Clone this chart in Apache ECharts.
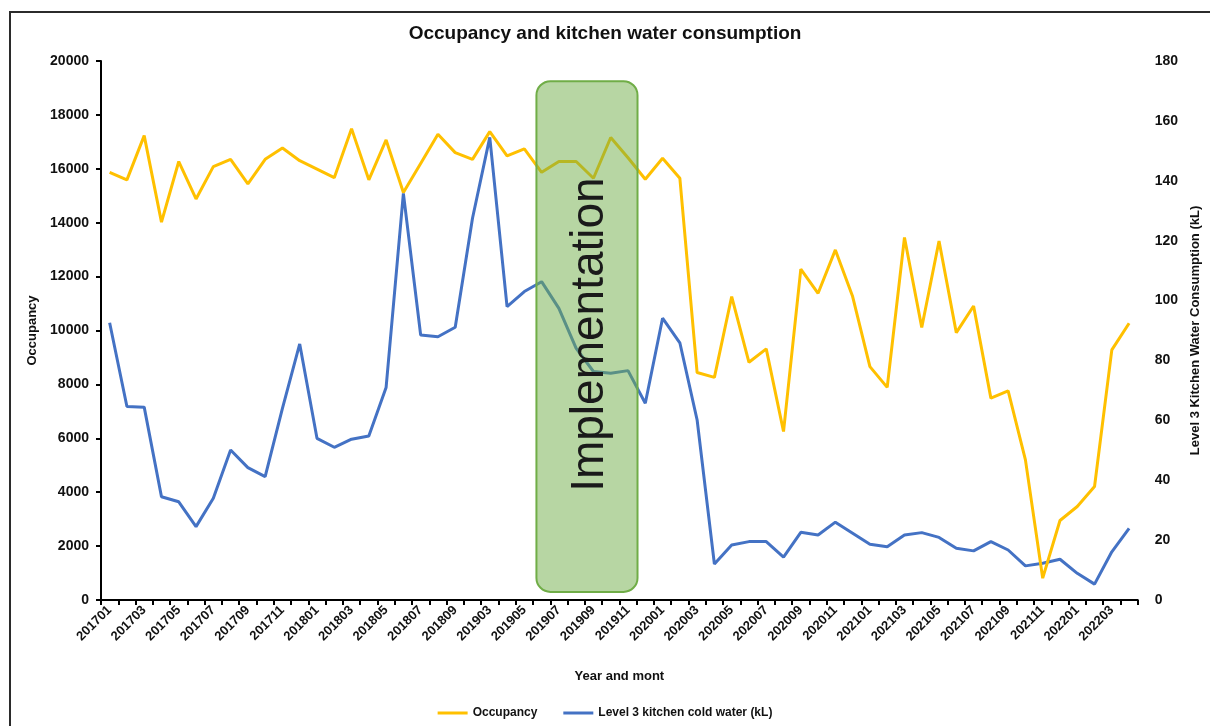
<!DOCTYPE html>
<html>
<head>
<meta charset="utf-8">
<script src="https://cdn.jsdelivr.net/npm/echarts@6.0.0/dist/echarts.min.js"></script>
<style>
  html, body { margin: 0; padding: 0; background: #fff; }
  #chart { width: 1210px; height: 726px; }
</style>
</head>
<body>
<div id="chart"></div>
<script>
// year+month categories (one month between 201809 and 201903 only)
const months = [
  '201701', '201702', '201703', '201704', '201705', '201706', '201707', '201708', '201709', '201710', '201711', '201712',
  '201801', '201802', '201803', '201804', '201805', '201806', '201807', '201808', '201809', '201810',
  '201903', '201904', '201905', '201906', '201907', '201908', '201909', '201910', '201911', '201912',
  '202001', '202002', '202003', '202004', '202005', '202006', '202007', '202008', '202009', '202010', '202011', '202012',
  '202101', '202102', '202103', '202104', '202105', '202106', '202107', '202108', '202109', '202110', '202111', '202112',
  '202201', '202202', '202203', '202204'
]

const occupancy = [
  15870, 15590, 17230, 14020, 16270, 14880, 16080, 16350, 15440, 16350,
  16770, 16300, 15990, 15670, 17490, 15590, 17070, 15120, 16200, 17280,
  16600, 16350, 17380, 16480, 16740, 15870, 16270, 16270, 15650, 17160,
  16410, 15610, 16390, 15650, 8440, 8260, 11260, 8820, 9320, 6250,
  12280, 11380, 12990, 11260, 8660, 7890, 13450, 10110, 13320, 9920,
  10910, 7490, 7760, 5200, 810, 2950, 3470, 4210, 9280, 10270
]

const coldWater = [
  92.6, 64.6, 64.4, 34.5, 32.8, 24.5, 34.0, 50.1, 44.2, 41.2,
  64.0, 85.5, 54.0, 51.0, 53.7, 54.8, 71.0, 135.8, 88.5, 87.9,
  91.1, 127.5, 154.5, 98.0, 103.0, 106.3, 97.4, 84.0, 76.3, 75.7,
  76.6, 65.7, 94.1, 85.9, 60.1, 12.0, 18.4, 19.5, 19.5, 14.3,
  22.6, 21.7, 26.0, 22.3, 18.6, 17.8, 21.7, 22.5, 20.9, 17.3,
  16.4, 19.5, 16.7, 11.4, 12.3, 13.6, 8.9, 5.3, 16.1, 23.9
]

const seriesNames = ['Occupancy', 'Level 3 kitchen cold water (kL)']

const FONT = '"Liberation Sans", Arial, sans-serif'
const TEXT = '#111'

const chart = echarts.init(document.getElementById('chart'), null, { renderer: 'canvas' })

const option = {
  animation: false,
  backgroundColor: '#fff',
  textStyle: { fontFamily: FONT },
  title: {
    text: 'Occupancy and kitchen water consumption',
    left: 'center',
    top: 19,
    textStyle: { color: TEXT, fontSize: 19, fontWeight: 'bold', fontFamily: FONT }
  },
  legend: {
    data: seriesNames,
    bottom: 2,
    left: 'center',
    icon: 'rect',
    itemWidth: 30,
    itemHeight: 3,
    itemGap: 26,
    textStyle: { color: TEXT, fontSize: 12, fontWeight: 'bold', fontFamily: FONT }
  },
  grid: {
    left: 101,
    right: 70,
    top: 61,
    bottom: 126
  },
  xAxis: {
    type: 'category',
    data: months,
    boundaryGap: true,
    name: 'Year and mont',
    nameLocation: 'middle',
    nameGap: 70,
    nameTextStyle: { color: TEXT, fontSize: 13, fontWeight: 'bold' },
    axisLine: { lineStyle: { color: '#000', width: 2 } },
    axisTick: { show: true, interval: 0, length: 5, lineStyle: { color: '#000', width: 2 } },
    axisLabel: {
      interval: 1,
      rotate: 45,
      margin: 8,
      color: TEXT,
      fontSize: 13,
      fontWeight: 'bold'
    },
    splitLine: { show: false }
  },
  yAxis: [
    {
      type: 'value',
      min: 0,
      max: 20000,
      interval: 2000,
      name: 'Occupancy',
      nameLocation: 'middle',
      nameGap: 62,
      nameTextStyle: { color: TEXT, fontSize: 13, fontWeight: 'bold' },
      axisLine: { show: true, lineStyle: { color: '#000', width: 2 } },
      axisTick: { show: true, length: 5, lineStyle: { color: '#000', width: 2 } },
      axisLabel: { color: TEXT, fontSize: 14, fontWeight: 'bold', margin: 12, formatter: v => String(v) },
      splitLine: { show: false }
    },
    {
      type: 'value',
      min: 0,
      max: 180,
      interval: 20,
      name: 'Level 3 Kitchen Water Consumption (kL)',
      nameLocation: 'middle',
      nameGap: 48,
      nameRotate: 90,
      nameTextStyle: { color: TEXT, fontSize: 13, fontWeight: 'bold' },
      axisLine: { show: false },
      axisTick: { show: false },
      axisLabel: { color: TEXT, fontSize: 14, fontWeight: 'bold', margin: 17, formatter: v => String(v) },
      splitLine: { show: false }
    }
  ],
  series: [
    {
      name: seriesNames[0],
      type: 'line',
      yAxisIndex: 0,
      data: occupancy,
      symbol: 'none',
      lineStyle: { color: '#FFC000', width: 3 },
      itemStyle: { color: '#FFC000' },
      z: 3
    },
    {
      name: seriesNames[1],
      type: 'line',
      yAxisIndex: 1,
      data: coldWater,
      symbol: 'none',
      lineStyle: { color: '#4472C4', width: 3 },
      itemStyle: { color: '#4472C4' },
      z: 2
    }
  ]
}

chart.setOption(option)

// place the "Implementation" box using the axes' own scales
const xPx = i => chart.convertToPixel({ xAxisIndex: 0 }, i)
const yPx = v => chart.convertToPixel({ yAxisIndex: 0 }, v)
const step = xPx(26) - xPx(25)
const boxLeft = xPx(25) - 0.3 * step
const boxRight = xPx(31) - 0.45 * step
const boxTop = yPx(19250)
const boxBottom = yPx(300)

chart.setOption({
  graphic: [
    {
      type: 'rect',
      z: 100,
      silent: true,
      shape: { x: 10, y: 12, width: 1220, height: 740 },
      style: { fill: 'none', stroke: '#2b2b2b', lineWidth: 2 }
    },
    {
      type: 'rect',
      z: 100,
      silent: true,
      shape: { x: boxLeft, y: boxTop, width: boxRight - boxLeft, height: boxBottom - boxTop, r: 14 },
      style: { fill: 'rgba(112, 173, 71, 0.5)', stroke: '#70AD47', lineWidth: 2 }
    },
    {
      type: 'text',
      z: 101,
      silent: true,
      x: (boxLeft + boxRight) / 2 + 3,
      y: (boxTop + boxBottom) / 2 - 2,
      rotation: Math.PI / 2,
      style: {
        text: 'Implementation',
        fill: '#1a1a1a',
        font: '46px "Liberation Sans", Arial, sans-serif',
        align: 'center',
        verticalAlign: 'middle'
      }
    }
  ]
})

window.addEventListener('resize', () => chart.resize())
</script>
</body>
</html>
